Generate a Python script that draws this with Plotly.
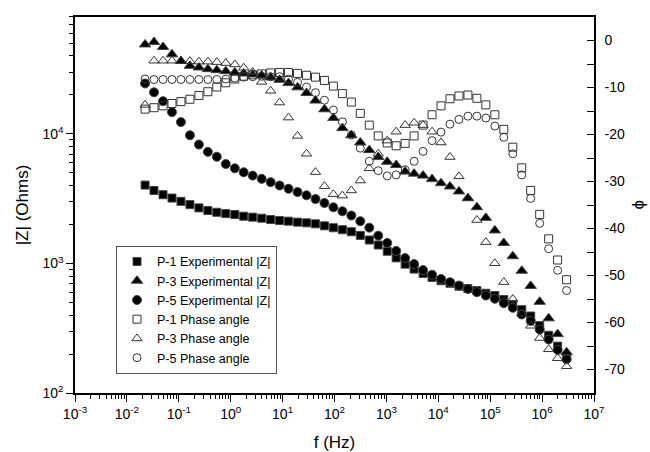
import plotly.graph_objects as go

# Measurement frequencies (Hz)
freq = [0.0224, 0.0333, 0.0497, 0.0739, 0.110, 0.164, 0.244, 0.363, 0.540, 0.804,
        1.20, 1.78, 2.65, 3.95, 5.88, 8.75, 13.0, 19.4, 28.9, 43.0,
        64.0, 95.2, 142, 211, 314, 468, 696, 1037, 1543, 2297,
        3420, 5090, 7580, 11270, 16790, 25000, 37200, 55400, 82400, 122800,
        182800, 272300, 405400, 603000, 898000, 1337000, 1991000, 2965000]

# Impedance modulus |Z| (Ohms)
z_p1 = [4030, 3660, 3395, 3200, 3018, 2848, 2687, 2562, 2486, 2428,
        2386, 2317, 2278, 2236, 2183, 2145, 2122, 2085, 2060, 2024,
        1953, 1887, 1822, 1758, 1648, 1518, 1389, 1243, 1105, 988,
        905, 838, 781, 736, 703, 667, 640, 618, 589, 566,
        527, 483, 440, 393, 331, 279, 230, 193]
z_p3 = [49100, 51200, 46900, 41200, 36600, 33600, 32600, 31650, 31100, 30550,
        29800, 29300, 28800, 28300, 27300, 26200, 24700, 22900, 20700, 18100,
        15500, 13300, 11100, 9770, 8590, 7500, 6630, 6100, 5760, 5120,
        4940, 4770, 4480, 4170, 3930, 3600, 3200, 2720, 2250, 1800,
        1440, 1138, 879, 671, 506, 377, 285, 206]
z_p5 = [24550, 20950, 17900, 14730, 12350, 9770, 8280, 7280, 6670, 5860,
        5430, 5060, 4770, 4500, 4245, 4000, 3775, 3560, 3360, 3145,
        2930, 2715, 2530, 2345, 2120, 1890, 1640, 1440, 1250, 1100,
        990, 889, 819, 759, 716, 675, 636, 600, 566, 534,
        494, 455, 404, 360, 309, 259, 215, 182]

# Phase angle (degrees)
ph_p1 = [-14.6, -14.3, -13.9, -13.4, -13.0, -12.5, -11.7, -10.9, -9.9, -9.0,
         -8.2, -7.6, -7.3, -7.1, -6.9, -6.8, -6.8, -7.0, -7.4, -7.8,
         -8.5, -9.7, -11.3, -13.1, -15.5, -18.0, -20.3, -21.8, -22.4, -21.9,
         -20.3, -18.0, -15.8, -13.9, -12.4, -11.8, -11.6, -12.3, -13.7, -15.8,
         -18.9, -22.7, -27.1, -31.9, -37.0, -42.2, -46.7, -50.9]
ph_p3 = [-13.7, -4.3, -4.3, -4.3, -4.4, -4.4, -4.5, -4.5, -4.6, -4.8,
         -5.1, -5.8, -6.7, -8.8, -10.7, -13.2, -16.4, -20.3, -24.1, -28.0,
         -31.0, -32.7, -33.0, -31.9, -29.8, -27.2, -24.1, -21.3, -19.4, -18.0,
         -17.5, -18.0, -19.4, -21.7, -24.8, -28.9, -33.6, -38.2, -42.9, -47.4,
         -51.4, -55.0, -58.1, -60.7, -63.3, -65.7, -67.6, -69.3]
ph_p5 = [-8.2, -8.3, -8.3, -8.3, -8.3, -8.3, -8.3, -8.3, -8.3, -8.2,
         -8.0, -7.8, -7.7, -7.6, -7.7, -7.7, -8.2, -8.9, -9.9, -11.1,
         -12.7, -14.8, -17.3, -20.1, -22.9, -25.7, -27.7, -28.8, -28.6, -27.5,
         -25.7, -23.6, -21.3, -19.5, -17.8, -16.8, -16.1, -16.1, -16.5, -18.2,
         -20.6, -24.1, -28.6, -33.6, -38.9, -44.3, -48.9, -53.2]

# Decade tick positions and labels
x_tick_vals = [1e-3, 1e-2, 1e-1, 1, 10, 1e2, 1e3, 1e4, 1e5, 1e6, 1e7]
x_tick_text = ["10<sup>-3</sup>", "10<sup>-2</sup>", "10<sup>-1</sup>", "10<sup>0</sup>",
               "10<sup>1</sup>", "10<sup>2</sup>", "10<sup>3</sup>", "10<sup>4</sup>",
               "10<sup>5</sup>", "10<sup>6</sup>", "10<sup>7</sup>"]
y_tick_vals = [1e2, 1e3, 1e4]
y_tick_text = ["10<sup>2</sup>", "10<sup>3</sup>", "10<sup>4</sup>"]
phase_tick_vals = [0, -10, -20, -30, -40, -50, -60, -70]
phase_tick_text = ["0", "-10", "-20", "-30", "-40", "-50", "-60", "-70"]

series = [
    ("P-1 Experimental |Z|", z_p1, "y", "square", 8),
    ("P-3 Experimental |Z|", z_p3, "y", "triangle-up", 10),
    ("P-5 Experimental |Z|", z_p5, "y", "circle", 9),
    ("P-1 Phase angle", ph_p1, "y2", "square-open", 8),
    ("P-3 Phase angle", ph_p3, "y2", "triangle-up-open", 9),
    ("P-5 Phase angle", ph_p5, "y2", "circle-open", 8),
]

fig = go.Figure()
for name, vals, axis, sym, size in series:
    filled = not sym.endswith("open")
    fig.add_trace(go.Scatter(
        x=freq, y=vals, name=name, mode="markers", yaxis=axis,
        marker=dict(symbol=sym, size=size,
                    color="black" if filled else "#333333",
                    line=dict(color="#444444" if filled else "#333333", width=1)),
    ))

font_family = "Liberation Sans, Arial, sans-serif"
tick_font = dict(family=font_family, size=14, color="black")
title_font = dict(family=font_family, size=17, color="black")

fig.update_layout(
    width=650, height=452,
    margin=dict(l=75, r=56, t=17, b=59, autoexpand=False),
    paper_bgcolor="white", plot_bgcolor="white",
    showlegend=True,
    legend=dict(
        x=0.079, y=0.051, xanchor="left", yanchor="bottom",
        bordercolor="#555555", borderwidth=1, bgcolor="white",
        font=dict(family=font_family, size=12.5, color="black"),
        itemsizing="trace",
    ),
    xaxis=dict(
        type="log", range=[-3, 7], tickvals=x_tick_vals, ticktext=x_tick_text,
        showline=True, linecolor="black", linewidth=1.5, mirror=True,
        ticks="outside", ticklen=7, tickcolor="black", automargin=False,
        minor=dict(ticks="outside", ticklen=4, tickcolor="black", dtick="D1", showgrid=False),
        showgrid=False, zeroline=False, tickfont=tick_font,
        title=dict(text="f (Hz)", font=title_font, standoff=17),
    ),
    yaxis=dict(
        type="log", range=[2, 4.903], tickvals=y_tick_vals, ticktext=y_tick_text,
        showline=True, linecolor="black", linewidth=1.5,
        ticks="outside", ticklen=7, tickcolor="black", automargin=False,
        minor=dict(ticks="outside", ticklen=4, tickcolor="black", dtick="D1", showgrid=False),
        showgrid=False, zeroline=False, tickfont=tick_font,
        title=dict(text="|Z| (Ohms)", font=title_font, standoff=9),
    ),
    yaxis2=dict(
        overlaying="y", side="right", range=[-75, 5],
        tickvals=phase_tick_vals, ticktext=phase_tick_text,
        showline=True, linecolor="black", linewidth=1.5,
        ticks="inside", ticklen=7, tickcolor="black", ticklabelstandoff=6,
        automargin=False,
        minor=dict(ticks="inside", ticklen=7, tickcolor="black", dtick=5, tick0=0, showgrid=False),
        showgrid=False, zeroline=False, tickfont=tick_font,
    ),
)

# Right-hand axis title for the phase angle
fig.add_annotation(
    text="ϕ", xref="paper", yref="paper", x=1.084, y=0.5,
    xanchor="center", yanchor="middle", textangle=-90, showarrow=False,
    font=title_font,
)

fig.write_html("out.html")
